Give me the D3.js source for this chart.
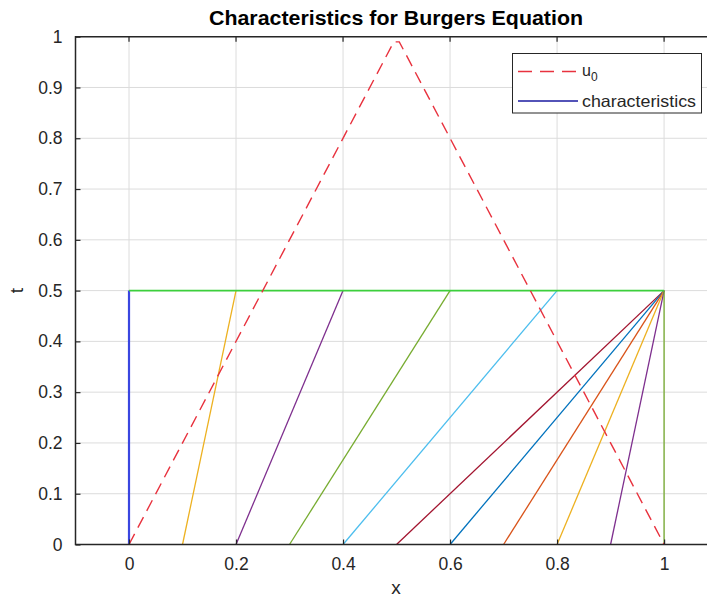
<!DOCTYPE html>
<html>
<head>
<meta charset="utf-8">
<script src="https://cdn.jsdelivr.net/npm/d3@7"></script>
<style>
  html, body { margin: 0; padding: 0; background: #fff; }
  svg { display: block; font-family: "Liberation Sans", Arial, Helvetica, sans-serif; }
</style>
</head>
<body>
<svg id="chart" width="707" height="605"></svg>
<script>
// ---------- data ----------
const xTicks = [0, 0.2, 0.4, 0.6, 0.8, 1];
const tTicks = [0, 0.1, 0.2, 0.3, 0.4, 0.5, 0.6, 0.7, 0.8, 0.9, 1];
const xTickLabels = ["0", "0.2", "0.4", "0.6", "0.8", "1"];
const tTickLabels = ["0", "0.1", "0.2", "0.3", "0.4", "0.5", "0.6", "0.7", "0.8", "0.9", "1"];

// initial condition u0 (tent), sampled points
const u0X = [0, 0.4949, 0.5051, 1];
const u0Y = [0, 0.9899, 0.9899, 0];

// characteristics: start x at t=0, end x at t=0.5
const charStartX = [0, 0.1, 0.2, 0.3, 0.4, 0.5, 0.6, 0.7, 0.8, 0.9, 1];
const charEndX   = [0, 0.2, 0.4, 0.6, 0.8, 1.0, 1.0, 1.0, 1.0, 1.0, 1.0];
const charEndT = 0.5;
const charColors = ["#3a46e0", "#EDB120", "#7E2F8E", "#77AC30", "#4DBEEE", "#A2142F",
                    "#0072BD", "#D95319", "#EDB120", "#7E2F8E", "#77AC30"];

// horizontal line at t = 0.5
const topLineX = [0, 1];
const topLineT = [0.5, 0.5];

const xDomain = [-0.1, 1.1];
const tDomain = [0, 1];

// ---------- layout ----------
const svg = d3.select("#chart");
const pLeft = 75.5, pRight = 717.6, pTop = 36.7, pBottom = 544.5;
const x = d3.scaleLinear().domain(xDomain).range([pLeft, pRight]);
const y = d3.scaleLinear().domain(tDomain).range([pBottom, pTop]);

svg.append("defs").append("clipPath").attr("id", "clip")
  .append("rect").attr("x", pLeft).attr("y", pTop).attr("width", pRight - pLeft).attr("height", pBottom - pTop);

// grid
const grid = svg.append("g").attr("stroke", "#dcdcdc").attr("stroke-width", 1);
xTicks.forEach(v => grid.append("line").attr("x1", x(v)).attr("x2", x(v)).attr("y1", pTop).attr("y2", pBottom));
tTicks.forEach(v => grid.append("line").attr("x1", pLeft).attr("x2", pRight).attr("y1", y(v)).attr("y2", y(v)));

// plot area
const plot = svg.append("g").attr("clip-path", "url(#clip)");

// characteristics
charStartX.forEach((sx, i) => {
  plot.append("line")
    .attr("x1", x(sx)).attr("y1", y(0))
    .attr("x2", x(charEndX[i])).attr("y2", y(charEndT))
    .attr("stroke", charColors[i])
    .attr("stroke-width", i === 0 ? 2.2 : 1.3);
});

// horizontal line
const line = d3.line().x(d => x(d[0])).y(d => y(d[1]));
plot.append("path")
  .attr("d", line(topLineX.map((v, i) => [v, topLineT[i]])))
  .attr("fill", "none").attr("stroke", "#3ccf3c").attr("stroke-width", 1.6);

// u0 dashed
plot.append("path")
  .attr("d", line(u0X.map((v, i) => [v, u0Y[i]])))
  .attr("fill", "none").attr("stroke", "#e8323e").attr("stroke-width", 1.4)
  .attr("stroke-dasharray", "12,7");

// axes
const axisColor = "#262626";
const xAxis = d3.axisBottom(x).tickValues(xTicks).tickFormat((d, i) => xTickLabels[i]).tickSize(-5).tickPadding(13);
const yAxis = d3.axisLeft(y).tickValues(tTicks).tickFormat((d, i) => tTickLabels[i]).tickSize(-5).tickPadding(13);

const gx = svg.append("g").attr("transform", `translate(0,${pBottom})`).call(xAxis);
const gy = svg.append("g").attr("transform", `translate(${pLeft},0)`).call(yAxis);
[gx, gy].forEach(g => {
  g.select(".domain").remove();
  g.selectAll(".tick line").attr("stroke", axisColor).attr("stroke-width", 1.2);
  g.selectAll(".tick text").attr("fill", "#262626").attr("font-size", 17.5)
    .attr("font-family", "'Liberation Sans', Arial, sans-serif");
});
// top ticks
xTicks.forEach(v => svg.append("line").attr("x1", x(v)).attr("x2", x(v)).attr("y1", pTop).attr("y2", pTop + 5)
  .attr("stroke", axisColor).attr("stroke-width", 1.2));

// box
svg.append("path")
  .attr("d", `M${pRight},${pTop}H${pLeft}V${pBottom}H${pRight}`)
  .attr("fill", "none").attr("stroke", axisColor).attr("stroke-width", 1.5);

// labels
svg.append("text").attr("x", 396).attr("y", 25).attr("text-anchor", "middle")
  .attr("font-size", 19.5).attr("font-weight", "bold").attr("fill", "#000")
  .attr("textLength", 374).attr("lengthAdjust", "spacingAndGlyphs")
  .text("Characteristics for Burgers Equation");
svg.append("text").attr("x", 396).attr("y", 594).attr("text-anchor", "middle")
  .attr("font-size", 19).attr("fill", "#262626").text("x");
svg.append("text").attr("transform", `translate(23,${(pTop + pBottom) / 2}) rotate(-90)`)
  .attr("text-anchor", "middle").attr("font-size", 19).attr("fill", "#262626").text("t");

// legend
const lg = svg.append("g");
lg.append("rect").attr("x", 512.5).attr("y", 53.5).attr("width", 189).attr("height", 59.5)
  .attr("fill", "#fff").attr("stroke", "#262626").attr("stroke-width", 1);
lg.append("line").attr("x1", 518).attr("x2", 576).attr("y1", 71.5).attr("y2", 71.5)
  .attr("stroke", "#e8323e").attr("stroke-width", 1.4).attr("stroke-dasharray", "14,8");
const t1 = lg.append("text").attr("x", 582).attr("y", 76).attr("font-size", 16).attr("fill", "#262626");
t1.append("tspan").text("u");
t1.append("tspan").attr("dy", 5).attr("font-size", 12).text("0");
lg.append("line").attr("x1", 518).attr("x2", 578).attr("y1", 101).attr("y2", 101)
  .attr("stroke", "#1a1aa0").attr("stroke-width", 1.4);
lg.append("text").attr("x", 582).attr("y", 106.5).attr("font-size", 16.5).attr("fill", "#262626")
  .attr("textLength", 114).attr("lengthAdjust", "spacingAndGlyphs").text("characteristics");
</script>
</body>
</html>
